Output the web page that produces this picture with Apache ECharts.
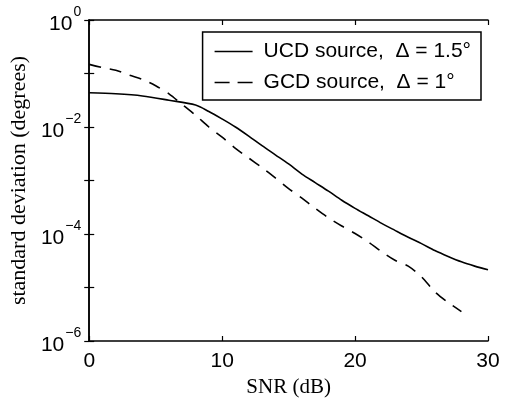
<!DOCTYPE html>
<html>
<head>
<meta charset="utf-8">
<script src="https://cdn.jsdelivr.net/npm/echarts@6/dist/echarts.min.js"></script>
<style>html,body{margin:0;padding:0;background:#fff}#c{width:505px;height:406px}</style>
</head>
<body>
<div id="c"></div>
<script>
const ucdSnr = [0, 2, 4, 6, 8, 9, 10, 11, 12, 13, 14, 15, 16, 17, 18, 19, 20, 21, 22, 23, 24, 25, 26, 27, 28, 29, 30];
const ucdStd = [0.0437, 0.0417, 0.0380, 0.0316, 0.0257, 0.0195, 0.0141, 0.0100, 0.00676, 0.00447, 0.00302, 0.00204, 0.00132, 0.000912, 0.000631, 0.000427, 0.000302, 0.000219, 0.000158, 0.000117, 0.0000871, 0.0000661, 0.0000490, 0.0000380, 0.0000302, 0.0000251, 0.0000214];
const gcdSnr = [0, 1, 2, 3, 4, 5, 6, 7, 8, 9, 10, 11, 12, 13, 14, 15, 16, 17, 18, 19, 20, 21, 22, 23, 24, 25, 26, 27, 28];
const gcdStd = [0.148, 0.129, 0.115, 0.0933, 0.0776, 0.0589, 0.0417, 0.0263, 0.0166, 0.0100, 0.00646, 0.00398, 0.00263, 0.00174, 0.00112, 0.000708, 0.000468, 0.000302, 0.000200, 0.000141, 0.000102, 0.0000708, 0.0000468, 0.0000324, 0.0000251, 0.0000158, 0.00000832, 0.00000525, 0.00000355];
const xTicks = [0, 10, 20, 30];
const yLabelExps = [0, -2, -4, -6];
const seriesNames = ['UCD source,  \u0394 = 1.5\u00B0', 'GCD source,  \u0394 = 1\u00B0'];

const chart = echarts.init(document.getElementById('c'), null, {renderer: 'canvas'});
const sans = 'Liberation Sans, Arial, sans-serif';
const serif = 'Liberation Serif, Times New Roman, serif';

// legend glyphs: a tiny point at top and bottom keeps the path's box at 38x20 so it is not stretched
const solidIcon = 'path://M0,0h0.01v0.01h-0.01z M0,9.2h38v1.6h-38z M0,20h0.01v-0.01h-0.01z';
const dashIcon = 'path://M0,0h0.01v0.01h-0.01z M0,9.2h15v1.6h-15z M23,9.2h15v1.6h-15z M0,20h0.01v-0.01h-0.01z';

const yFormatter = function (v) {
  const e = Math.round(Math.log10(v));
  if (yLabelExps.indexOf(e) < 0) return '';
  const es = e < 0 ? '\u2212' + (-e) : String(e);
  return '{b|10}{s|' + es + '}';
};

chart.setOption({
  animation: false,
  backgroundColor: '#fff',
  grid: {left: 83, right: 17, top: 20, bottom: 65, containLabel: false},
  legend: {
    right: 24, top: 32,
    orient: 'vertical',
    padding: [9, 10, 7, 12],
    itemGap: 10,
    borderColor: '#000', borderWidth: 1.5,
    backgroundColor: '#fff',
    itemWidth: 38, itemHeight: 20,
    textStyle: {fontFamily: sans, fontSize: 21, color: '#000', padding: [0, 0, 0, 6]},
    data: [{name: seriesNames[0], icon: solidIcon}, {name: seriesNames[1], icon: dashIcon}]
  },
  xAxis: [{
    type: 'value', min: 0, max: 30, interval: 10,
    position: 'bottom',
    name: 'SNR (dB)', nameLocation: 'middle', nameGap: 36,
    nameTextStyle: {fontFamily: serif, fontSize: 21, color: '#000'},
    axisLine: {lineStyle: {color: '#000', width: 1.5}},
    axisTick: {inside: true, length: 5, lineStyle: {color: '#000', width: 1.2}},
    axisLabel: {fontFamily: sans, fontSize: 21, color: '#000', margin: 10,
      formatter: v => (xTicks.indexOf(v) >= 0 ? String(v) : '')},
    splitLine: {show: false}
  }, {
    type: 'value', min: 0, max: 30, interval: 10, position: 'top',
    axisLine: {lineStyle: {color: '#000', width: 1.5}},
    axisTick: {inside: true, length: 5, lineStyle: {color: '#000', width: 1.2}},
    axisLabel: {show: false}, splitLine: {show: false}
  }],
  yAxis: [{
    type: 'log', logBase: 10, min: 1e-6, max: 1, interval: 1,
    position: 'left',
    name: 'standard deviation (degrees)', nameLocation: 'middle', nameGap: 50,
    nameTextStyle: {fontFamily: serif, fontSize: 22, color: '#000'},
    axisLine: {show: true, lineStyle: {color: '#000', width: 1.5}},
    axisTick: {inside: true, length: 5, lineStyle: {color: '#000', width: 1.2}},
    axisLabel: {
      formatter: yFormatter, margin: 8,
      rich: {
        b: {fontFamily: sans, fontSize: 21, color: '#000', lineHeight: 30, verticalAlign: 'bottom'},
        s: {fontFamily: sans, fontSize: 14, color: '#000', lineHeight: 30, verticalAlign: 'top', padding: [0, 0, 0, 1]}
      }
    },
    splitLine: {show: false}
  }, {
    type: 'log', logBase: 10, min: 1e-6, max: 1, interval: 1,
    position: 'right',
    axisLine: {show: true, lineStyle: {color: '#000', width: 1.5}},
    axisTick: {inside: true, length: 5, lineStyle: {color: '#000', width: 1.2}},
    axisLabel: {show: false}, splitLine: {show: false}
  }],
  series: [{
    name: seriesNames[0], type: 'line', symbol: 'none', smooth: 0.3,
    xAxisIndex: 0, yAxisIndex: 0,
    lineStyle: {color: '#000', width: 1.6, type: 'solid'},
    itemStyle: {color: '#000'},
    data: ucdSnr.map((x, i) => [x, ucdStd[i]])
  }, {
    name: seriesNames[1], type: 'line', symbol: 'none', smooth: 0.3,
    xAxisIndex: 0, yAxisIndex: 0,
    lineStyle: {color: '#000', width: 1.6, type: [12, 9]},
    itemStyle: {color: '#000'},
    data: gcdSnr.map((x, i) => [x, gcdStd[i]])
  }]
});
</script>
</body>
</html>
